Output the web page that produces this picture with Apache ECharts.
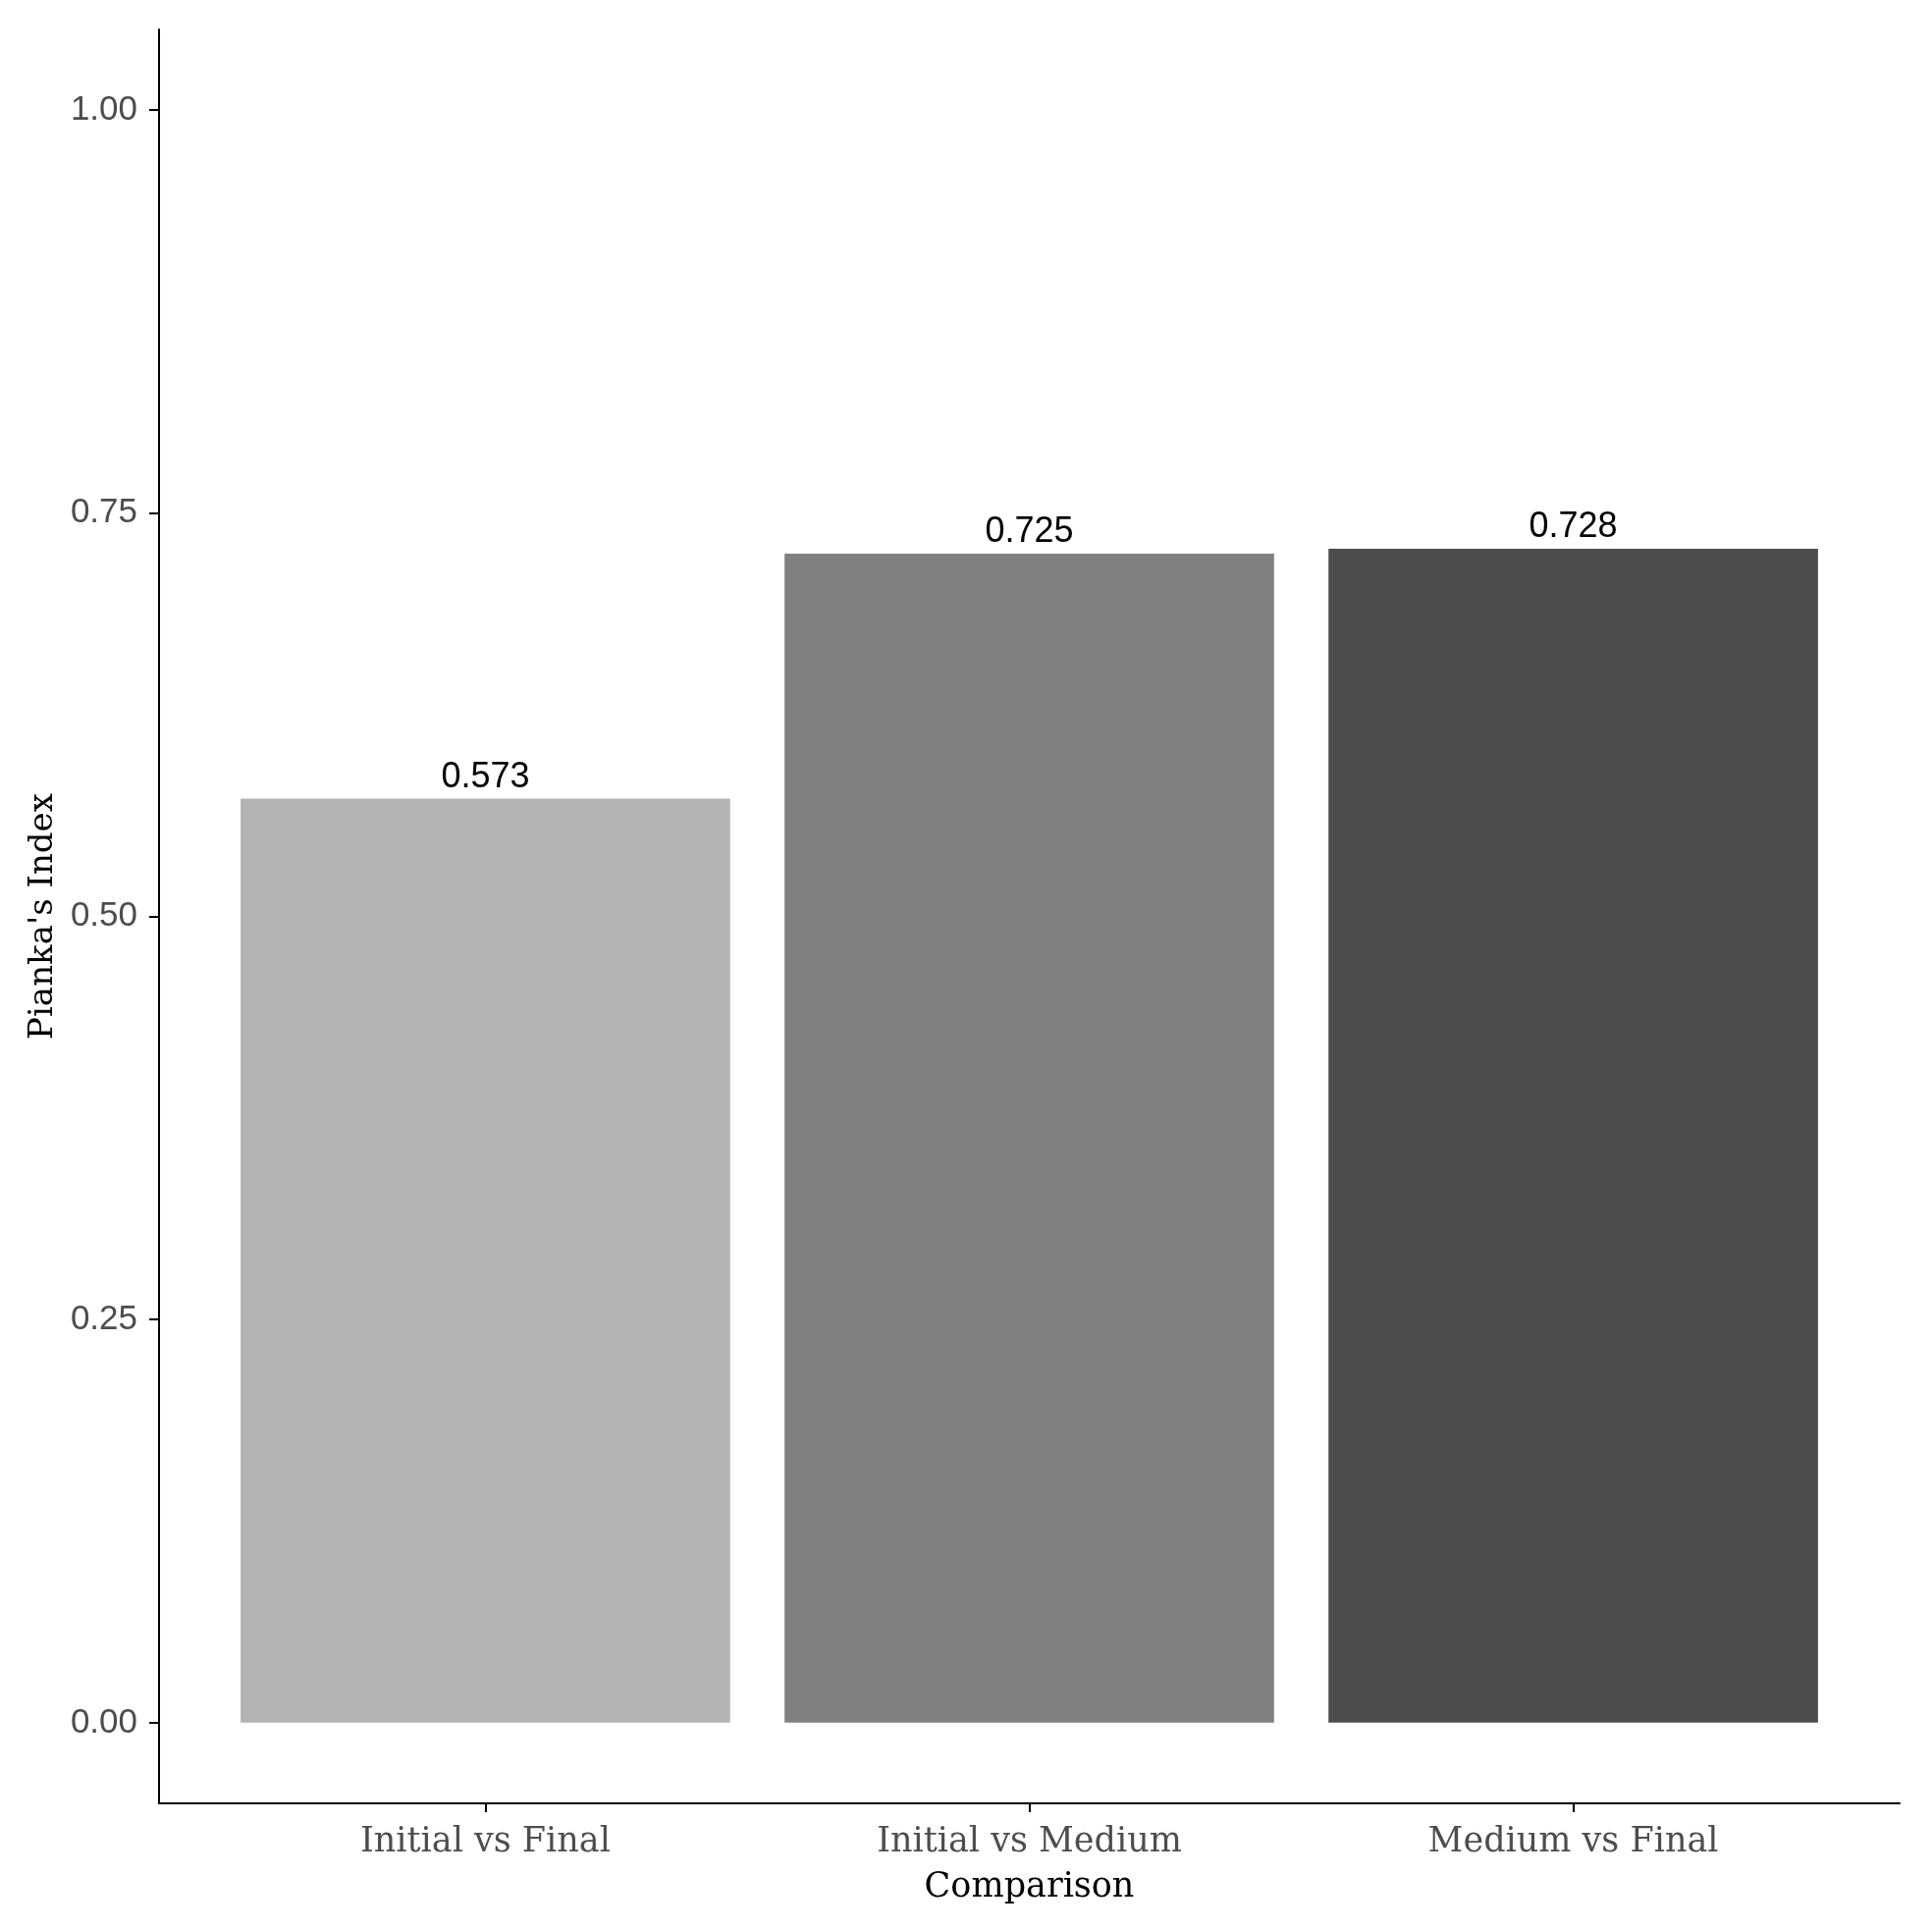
<!DOCTYPE html>
<html>
<head>
<meta charset="utf-8">
<title>Pianka's Index</title>
<script src="https://cdn.jsdelivr.net/npm/echarts@6/dist/echarts.min.js"></script>
<style>
  html, body { margin: 0; padding: 0; background: #fff; }
  #chart { width: 1968px; height: 1965px; }
</style>
</head>
<body>
<div id="chart"></div>
<script>
// data
var categories = ['Initial vs Final', 'Initial vs Medium', 'Medium vs Final'];
var values = [0.573, 0.725, 0.728];
var barColors = ['#b3b3b3', '#808080', '#4d4d4d'];
var yTicks = [0, 0.25, 0.5, 0.75, 1.0];
var xTicks = [1, 2, 3];

var dom = document.getElementById('chart');
var chart = echarts.init(dom, null, { renderer: 'canvas' });

var grid = { left: 162, right: 33, top: 30, bottom: 128 };
// ggplot style discrete scale: 0.6 units of padding each side, bars 0.9 wide
var unit = (dom.clientWidth - grid.left - grid.right) / 3.2;

var serif = '"DejaVu Serif", serif';
var sans = '"Liberation Sans", Arial, sans-serif';

var option = {
  animation: false,
  backgroundColor: '#ffffff',
  grid: grid,
  xAxis: {
    type: 'value',
    min: 0.4,
    max: 3.6,
    name: 'Comparison',
    nameLocation: 'middle',
    nameGap: 68,
    nameTextStyle: { fontFamily: serif, fontSize: 35, color: '#000' },
    splitLine: { show: false },
    axisLine: { show: true, onZero: false, lineStyle: { color: '#000', width: 2 } },
    axisTick: { show: true, length: 9, customValues: xTicks, lineStyle: { color: '#000', width: 2 } },
    axisLabel: {
      customValues: xTicks,
      margin: 22,
      fontFamily: serif,
      fontSize: 35,
      color: '#4d4d4d',
      formatter: function (v) { return categories[Math.round(v) - 1] || ''; }
    }
  },
  yAxis: {
    type: 'value',
    min: -0.05,
    max: 1.05,
    name: "Pianka's Index",
    nameLocation: 'middle',
    nameRotate: 90,
    nameGap: 96,
    nameTextStyle: { fontFamily: serif, fontSize: 34, color: '#000' },
    splitLine: { show: false },
    axisLine: { show: true, onZero: false, lineStyle: { color: '#000', width: 2 } },
    axisTick: { show: true, length: 10, customValues: yTicks, lineStyle: { color: '#000', width: 2 } },
    axisLabel: {
      customValues: yTicks,
      margin: 22,
      padding: [6, 0, 0, 0],
      fontFamily: sans,
      fontSize: 35,
      color: '#4d4d4d',
      formatter: function (v) { return v.toFixed(2); }
    }
  },
  series: [{
    type: 'bar',
    barWidth: unit * 0.9,
    data: values.map(function (v, i) {
      return { value: [i + 1, v], itemStyle: { color: barColors[i] } };
    }),
    label: {
      show: true,
      position: 'top',
      distance: 4,
      fontFamily: sans,
      fontSize: 36,
      color: '#000',
      formatter: function (p) { return p.value[1].toFixed(3); }
    }
  }]
};

chart.setOption(option, true);
</script>
</body>
</html>
